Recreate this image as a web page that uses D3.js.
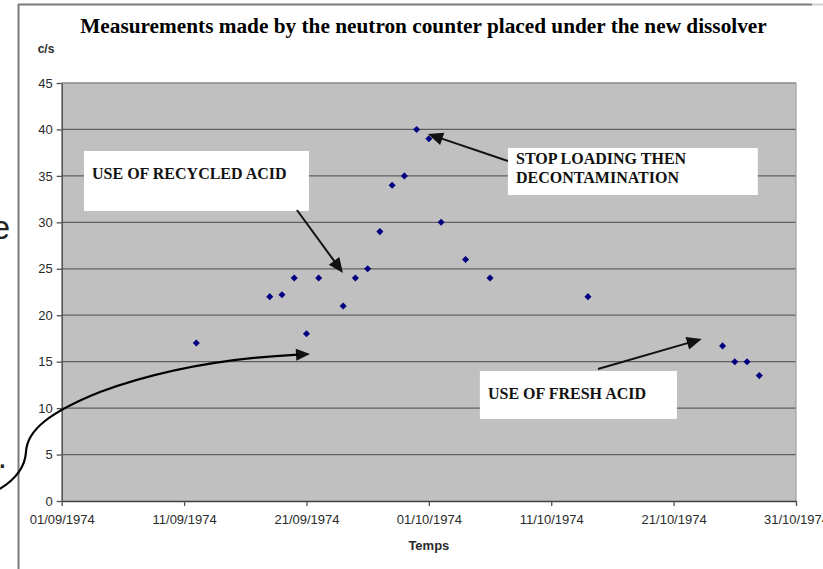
<!DOCTYPE html>
<html>
<head>
<meta charset="utf-8">
<script src="https://cdn.jsdelivr.net/npm/d3@7"></script>
<style>
  html, body { margin: 0; padding: 0; background: #fff; }
  svg { display: block; }
  .sans { font-family: "Liberation Sans", Arial, sans-serif; }
  .serif { font-family: "Liberation Serif", "Times New Roman", serif; font-weight: bold; }
</style>
</head>
<body>
<svg id="chart" width="823" height="569"></svg>
<script>
// ---------------- data ----------------
const dates = ["1974-09-12","1974-09-18","1974-09-19","1974-09-20","1974-09-21","1974-09-22",
               "1974-09-24","1974-09-25","1974-09-26","1974-09-27","1974-09-28","1974-09-29",
               "1974-09-30","1974-10-01","1974-10-02","1974-10-04","1974-10-06","1974-10-14",
               "1974-10-25","1974-10-26","1974-10-27","1974-10-28"];
const counts = [17, 22, 22.2, 24, 18, 24, 21, 24, 25, 29, 34, 35, 40, 39, 30, 26, 24, 22, 16.7, 15, 15, 13.5];
const xTickDates = ["1974-09-01","1974-09-11","1974-09-21","1974-10-01","1974-10-11","1974-10-21","1974-10-31"];
const yTicks = [0, 5, 10, 15, 20, 25, 30, 35, 40, 45];
const titleText = "Measurements made by the neutron counter placed under the new dissolver";
const yLabel = "c/s";
const xLabel = "Temps";

// annotations in data units (day offset from 01/09/1974, value)
const notes = [
  { lines: ["USE OF RECYCLED ACID"], box: [1.82, 37.68, 20.2, 31.22], text: [2.48, 34.66], gap: 0 },
  { lines: ["STOP LOADING THEN", "DECONTAMINATION"], box: [36.46, 38.0, 56.88, 32.94], text: [37.12, 36.25], gap: 1.98 },
  { lines: ["USE OF FRESH ACID"], box: [34.17, 14.0, 50.27, 8.83], text: [34.83, 10.98], gap: 0 }
];
const arrows = [
  { from: [19.22, 31.33], to: [22.98, 24.55] },
  { from: [36.46, 36.6], to: [29.93, 39.51] },
  { from: [43.82, 14.21], to: [52.3, 17.44] }
];
// curved pointer (cubic segments) in data units
const curve = [[-5.204, 1.184], [-3.815, 2.261], [-2.998, 3.553], [-2.917, 5.275],
               [-2.835, 7.643], [-0.956, 9.581], [3.129, 11.734],
               [8.031, 14.103], [13.75, 15.395], [20.29, 15.825]];

// ---------------- layout ----------------
const svg = d3.select("#chart");
const parse = d3.utcParse("%Y-%m-%d");
const fmt = d3.utcFormat("%d/%m/%Y");
const pLeft = 61.7, pRight = 796, pTop = 83, pBottom = 501;
const day0 = parse("1974-09-01");
const x = d3.scaleUtc().domain([day0, parse("1974-10-31")]).range([pLeft, pRight]);
const y = d3.scaleLinear().domain([0, 45]).range([pBottom, pTop]);
const dayX = d => x(new Date(day0.getTime() + d * 864e5));

// background fragments from the underlying slide
svg.append("text").attr("class", "sans").attr("x", 10).attr("y", 239)
  .attr("text-anchor", "end").attr("font-size", 33).attr("fill", "#222").text("e");
svg.append("text").attr("class", "sans").attr("x", 7).attr("y", 468)
  .attr("text-anchor", "end").attr("font-size", 33).attr("fill", "#222").text(".");

// outer frame
svg.append("line").attr("x1", 18.5).attr("x2", 18.5).attr("y1", 4).attr("y2", 569)
  .attr("stroke", "#7a7a7a").attr("stroke-width", 2);
svg.append("line").attr("x1", 18).attr("x2", 812).attr("y1", 4.5).attr("y2", 4.5)
  .attr("stroke", "#7a7a7a").attr("stroke-width", 2);
svg.append("line").attr("x1", 812).attr("x2", 823).attr("y1", 4.5).attr("y2", 4.5)
  .attr("stroke", "#d0d0d0").attr("stroke-width", 2);

// plot background
svg.append("rect").attr("x", pLeft).attr("y", pTop).attr("width", pRight - pLeft).attr("height", pBottom - pTop)
  .attr("fill", "#c0c0c0");

// gridlines
svg.append("g").selectAll("line").data(yTicks.filter(v => v > 0 && v < 45)).join("line")
  .attr("x1", pLeft).attr("x2", pRight).attr("y1", d => y(d)).attr("y2", d => y(d))
  .attr("stroke", "#606060").attr("stroke-width", 1.3);
// plot border (top and right)
svg.append("line").attr("x1", pLeft).attr("x2", pRight).attr("y1", y(45)).attr("y2", y(45))
  .attr("stroke", "#8a8a8a").attr("stroke-width", 1.3);
svg.append("line").attr("x1", pRight).attr("x2", pRight).attr("y1", pTop).attr("y2", pBottom)
  .attr("stroke", "#a4a4a4").attr("stroke-width", 1.3);

// y axis
const yAxis = svg.append("g").attr("transform", `translate(${pLeft},0)`)
  .call(d3.axisLeft(y).tickValues(yTicks).tickSize(5).tickPadding(4).tickSizeOuter(0));
yAxis.select(".domain").attr("stroke", "#505050").attr("stroke-width", 1.5);
yAxis.selectAll(".tick line").attr("stroke", "#505050").attr("stroke-width", 1.3);
yAxis.selectAll("text").attr("font-size", 13).attr("fill", "#2a2a2a")
  .attr("font-family", "Liberation Sans, Arial, sans-serif");

// x axis
const xAxis = svg.append("g").attr("transform", `translate(0,${pBottom})`)
  .call(d3.axisBottom(x).tickValues(xTickDates.map(parse)).tickFormat(fmt).tickSize(5).tickPadding(9).tickSizeOuter(0));
xAxis.select(".domain").attr("stroke", "#404040").attr("stroke-width", 1.5);
xAxis.selectAll(".tick line").attr("stroke", "#505050").attr("stroke-width", 1.3);
xAxis.selectAll("text").attr("font-size", 13).attr("fill", "#2a2a2a")
  .attr("font-family", "Liberation Sans, Arial, sans-serif");

// axis titles
svg.append("text").attr("class", "sans").attr("x", 46).attr("y", 53).attr("text-anchor", "middle")
  .attr("font-size", 12).attr("font-weight", "bold").attr("fill", "#2a2a2a").text(yLabel);
svg.append("text").attr("class", "sans").attr("x", (pLeft + pRight) / 2).attr("y", 550).attr("text-anchor", "middle")
  .attr("font-size", 13).attr("font-weight", "bold").attr("fill", "#2a2a2a").text(xLabel);

// title, fitted to the reference width
const title = svg.append("text").attr("class", "serif").attr("x", 423.5).attr("y", 33)
  .attr("text-anchor", "middle").attr("font-size", 20).attr("fill", "#000").text(titleText);
const tw = title.node().getComputedTextLength();
title.attr("font-size", 20 * 687 / tw);

// data points (diamonds)
const diamond = d3.symbol().type(d3.symbolSquare).size(25);
svg.append("g").selectAll("path").data(dates.map((d, i) => ({ date: parse(d), v: counts[i] }))).join("path")
  .attr("d", diamond)
  .attr("transform", d => `translate(${x(d.date)},${y(d.v)}) rotate(45)`)
  .attr("fill", "#000080");

// annotation boxes
const ng = svg.append("g");
notes.forEach(n => {
  const [a, b, c, d] = n.box;
  ng.append("rect").attr("x", dayX(a)).attr("y", y(b)).attr("width", dayX(c) - dayX(a)).attr("height", y(d) - y(b))
    .attr("fill", "#fff");
  n.lines.forEach((ln, i) => {
    ng.append("text").attr("class", "serif").attr("x", dayX(n.text[0])).attr("y", y(n.text[1] - i * n.gap))
      .attr("font-size", 16).attr("fill", "#111").text(ln);
  });
});

// arrowhead helper
function head(g, x1, y1, x2, y2, len, half) {
  const ang = Math.atan2(y2 - y1, x2 - x1);
  const bx = x2 - len * Math.cos(ang), by = y2 - len * Math.sin(ang);
  const px = -Math.sin(ang) * half, py = Math.cos(ang) * half;
  g.append("path").attr("d", `M${x2},${y2}L${bx + px},${by + py}L${bx - px},${by - py}Z`).attr("fill", "#111");
  return [bx + 2 * Math.cos(ang), by + 2 * Math.sin(ang)];
}

const ag = svg.append("g");
arrows.forEach(a => {
  const x1 = dayX(a.from[0]), y1 = y(a.from[1]), x2 = dayX(a.to[0]), y2 = y(a.to[1]);
  const [bx, by] = head(ag, x1, y1, x2, y2, 15, 6.5);
  ag.append("line").attr("x1", x1).attr("y1", y1).attr("x2", bx).attr("y2", by)
    .attr("stroke", "#111").attr("stroke-width", 2);
});

// curved pointer
const cp = curve.map(p => [dayX(p[0]), y(p[1])]);
const tip = cp[cp.length - 1], prev = cp[cp.length - 2];
const base = head(ag, prev[0], prev[1], tip[0], tip[1], 14, 6);
cp[cp.length - 1] = base;
const path = d3.path();
path.moveTo(cp[0][0], cp[0][1]);
for (let i = 1; i + 2 < cp.length; i += 3) {
  path.bezierCurveTo(cp[i][0], cp[i][1], cp[i + 1][0], cp[i + 1][1], cp[i + 2][0], cp[i + 2][1]);
}
ag.append("path").attr("d", path.toString()).attr("fill", "none").attr("stroke", "#000").attr("stroke-width", 2.2);
</script>
</body>
</html>
